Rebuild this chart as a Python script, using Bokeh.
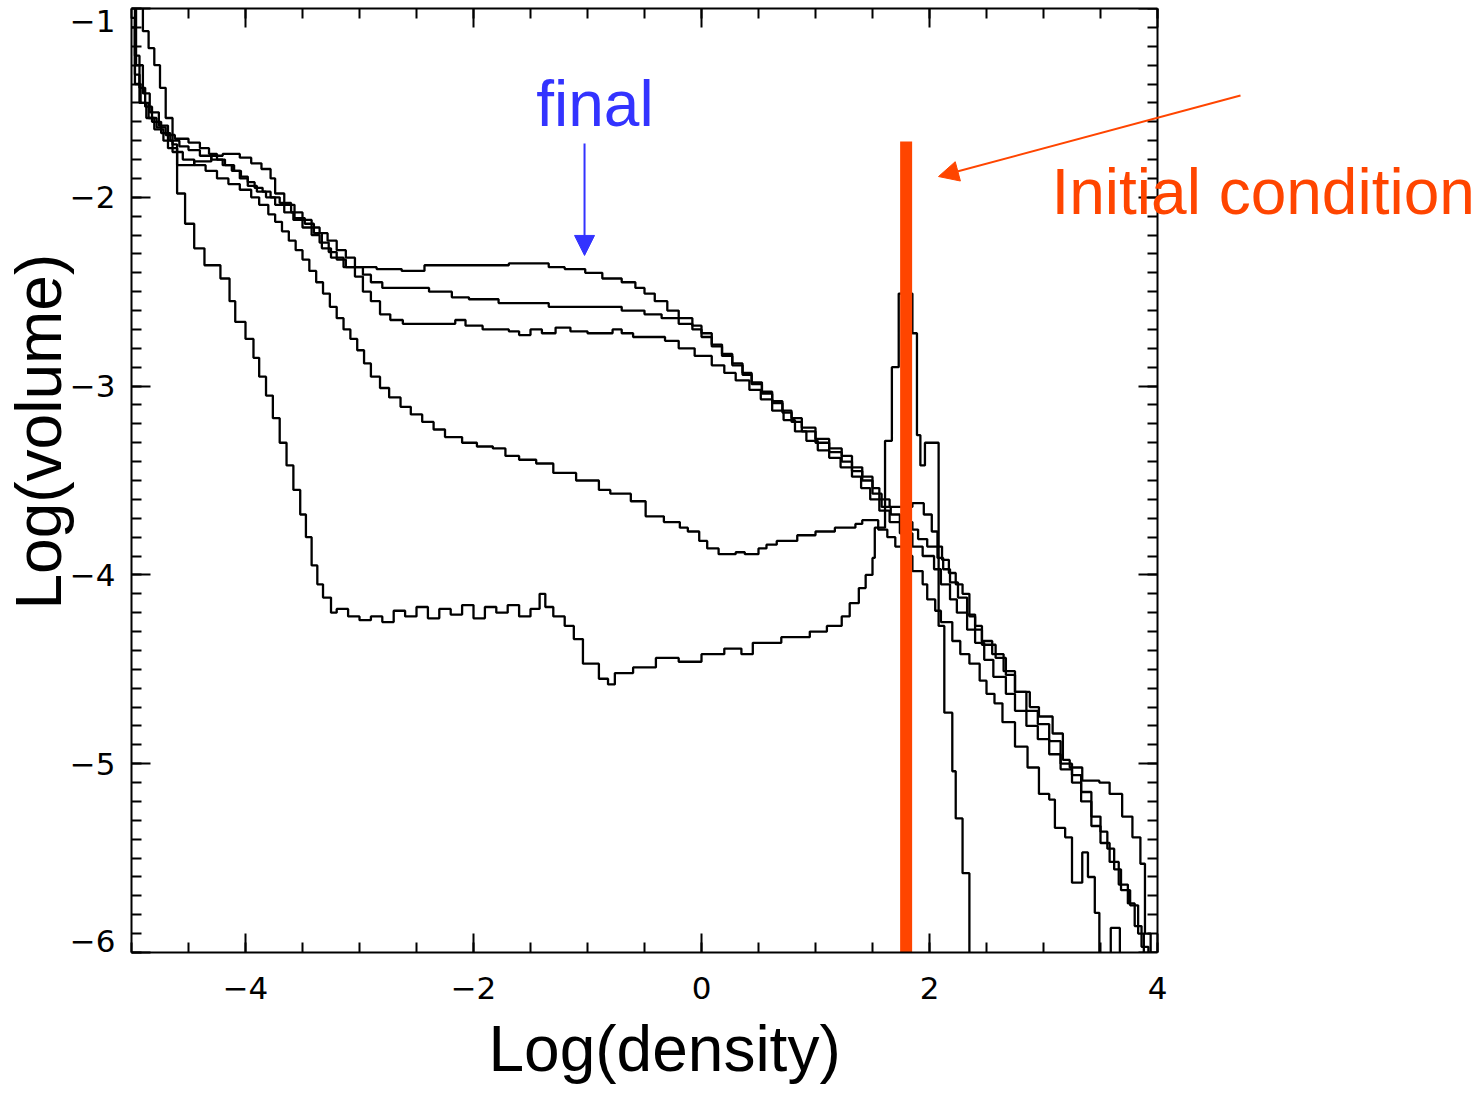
import numpy as np
from bokeh.plotting import figure
from bokeh.models import (FixedTicker, LinearAxis, Label, Arrow, NormalHead, Title,
                          Range1d, CustomJSTickFormatter)
from bokeh.embed import file_html
from bokeh.resources import INLINE

# ---------------- data ----------------
# Each histogram: left bin edges (Log density) and Log(volume) values.
final_x = [-5.0, -4.96, -4.9, -4.84, -4.76, -4.68, -4.6, -4.45, -4.3, -4.2, -4.05, -3.95, -3.86, -3.78, -3.74,
           -3.66, -3.57, -3.48, -3.4, -3.33, -3.25, -3.14, -2.85, -2.63, -2.43, -1.69, -1.34, -1.2, -1.02, -0.87,
           -0.7, -0.58, -0.5, -0.41, -0.3, -0.2, -0.08, 0.0, 0.09, 0.18, 0.27, 0.36, 0.44, 0.53, 0.62, 0.71, 0.79,
           0.88, 1.0, 1.12, 1.23, 1.32, 1.41, 1.5, 1.56, 1.65, 1.85, 1.95, 2.02, 2.07, 2.11, 2.17, 2.23, 2.29, 2.35,
           2.4, 2.46, 2.58, 2.67, 2.75, 2.88, 2.96, 3.08, 3.17, 3.23, 3.34, 3.49, 3.58, 3.69, 3.78, 3.85, 3.89, 3.94]
final_y = [-0.9, -1.3, -1.45, -1.55, -1.62, -1.74, -1.83, -1.81, -1.78, -1.77, -1.79, -1.82, -1.85, -1.9, -1.98,
           -2.04, -2.11, -2.14, -2.19, -2.27, -2.32, -2.37, -2.38, -2.39, -2.36, -2.35, -2.37, -2.38, -2.40, -2.43,
           -2.45, -2.48, -2.51, -2.55, -2.60, -2.64, -2.68, -2.72, -2.78, -2.83, -2.88, -2.93, -2.98, -3.03, -3.08,
           -3.13, -3.17, -3.22, -3.28, -3.33, -3.37, -3.43, -3.48, -3.54, -3.6, -3.64, -3.62, -3.68, -3.77, -3.85,
           -3.92, -3.99, -4.05, -4.10, -4.22, -4.29, -4.37, -4.44, -4.53, -4.62, -4.70, -4.75, -4.84, -4.98, -5.02,
           -5.09, -5.1, -5.16, -5.28, -5.39, -5.53, -5.9, -7.0]

t2_x = [-5.0, -4.97, -4.92, -4.85, -4.78, -4.7, -4.62, -4.5, -4.4, -4.32, -4.25, -4.18, -4.1, -4.04, -3.98, -3.92,
        -3.85, -3.78, -3.7, -3.6, -3.5, -3.42, -3.35, -3.28, -3.2, -3.12, -3.04, -2.97, -2.9, -2.8, -2.39, -2.19,
        -2.04, -1.78, -1.34, -0.7, -0.5, -0.35, -0.2, -0.08, 0.0, 0.09, 0.18, 0.27, 0.36, 0.44, 0.53, 0.62, 0.71,
        0.79, 0.88, 1.0, 1.12, 1.23, 1.32, 1.41, 1.5, 1.58, 1.66, 1.74, 1.85, 1.9, 1.98, 2.07, 2.12, 2.18, 2.25,
        2.33, 2.4, 2.46, 2.55, 2.65, 2.75, 2.85, 2.95, 3.05, 3.15, 3.25, 3.33, 3.42, 3.5, 3.56, 3.62, 3.68, 3.76,
        3.83, 3.88]
t2_y = [-0.95, -1.4, -1.5, -1.58, -1.63, -1.67, -1.69, -1.71, -1.74, -1.77, -1.8, -1.83, -1.86, -1.89, -1.92,
        -1.95, -1.97, -2.0, -2.03, -2.08, -2.12, -2.16, -2.19, -2.23, -2.28, -2.32, -2.37, -2.41, -2.45, -2.48,
        -2.50, -2.53, -2.54, -2.56, -2.58, -2.60, -2.62, -2.64, -2.67, -2.70, -2.74, -2.79, -2.84, -2.89, -2.94,
        -2.99, -3.04, -3.09, -3.14, -3.19, -3.24, -3.3, -3.35, -3.40, -3.45, -3.5, -3.57, -3.64, -3.68, -3.72,
        -3.76, -3.81, -3.85, -3.91, -3.97, -4.04, -4.12, -4.21, -4.27, -4.35, -4.42, -4.51, -4.62, -4.72, -4.79,
        -4.88, -5.0, -5.06, -5.15, -5.28, -5.36, -5.45, -5.56, -5.67, -5.75, -5.9, -7.0]

t3_x = [-5.0, -4.97, -4.93, -4.88, -4.82, -4.74, -4.66, -4.58, -4.5, -4.4, -4.3, -4.2, -4.12, -4.05, -3.98, -3.9,
        -3.82, -3.74, -3.66, -3.58, -3.5, -3.42, -3.35, -3.27, -3.2, -3.12, -3.04, -2.97, -2.9, -2.82, -2.73,
        -2.62, -2.16, -2.07, -1.92, -1.69, -1.6, -1.5, -1.4, -1.28, -1.15, -1.0, -0.78, -0.7, -0.6, -0.32, -0.2,
        -0.06, 0.09, 0.2, 0.3, 0.42, 0.52, 0.62, 0.72, 0.82, 0.92, 1.02, 1.12, 1.22, 1.32, 1.4, 1.48, 1.56, 1.65,
        1.74, 1.85, 1.94, 2.04, 2.1, 2.18, 2.24, 2.33, 2.4, 2.48, 2.56, 2.67, 2.75, 2.85, 2.95, 3.05, 3.15, 3.25,
        3.33, 3.42, 3.5, 3.58, 3.66, 3.74, 3.8, 3.86, 3.92]
t3_y = [-1.05, -1.25, -1.42, -1.52, -1.6, -1.66, -1.7, -1.73, -1.75, -1.78, -1.8, -1.83, -1.86, -1.9, -1.94, -1.97,
        -2.0, -2.04, -2.08, -2.12, -2.16, -2.2, -2.24, -2.29, -2.33, -2.37, -2.42, -2.5, -2.55, -2.62, -2.65,
        -2.67, -2.65, -2.68, -2.70, -2.71, -2.73, -2.70, -2.72, -2.69, -2.71, -2.72, -2.70, -2.72, -2.74, -2.76,
        -2.80, -2.84, -2.89, -2.93, -2.97, -3.02, -3.07, -3.13, -3.18, -3.24, -3.29, -3.34, -3.38, -3.43, -3.48,
        -3.54, -3.6, -3.66, -3.72, -3.78, -3.85, -3.9, -3.97, -4.05, -4.13, -4.2, -4.29, -4.36, -4.45, -4.54,
        -4.63, -4.72, -4.8, -4.87, -4.95, -5.03, -5.1, -5.2, -5.33, -5.42, -5.52, -5.64, -5.74, -5.86, -5.97, -7.0]

t4_x = [-5.0, -4.97, -4.93, -4.87, -4.8, -4.72, -4.64, -4.55, -4.45, -4.35, -4.25, -4.15, -4.05, -3.95, -3.88,
        -3.8, -3.74, -3.68, -3.62, -3.56, -3.5, -3.44, -3.38, -3.32, -3.26, -3.2, -3.14, -3.08, -3.02, -2.96, -2.9,
        -2.82, -2.74, -2.64, -2.55, -2.45, -2.35, -2.25, -2.1, -1.97, -1.83, -1.72, -1.6, -1.45, -1.3, -1.1, -0.9,
        -0.8, -0.62, -0.49, -0.33, -0.19, -0.12, -0.02, 0.05, 0.15, 0.3, 0.38, 0.5, 0.57, 0.66, 0.84, 1.0, 1.17,
        1.35, 1.41, 1.55, 1.63, 1.7, 1.78, 1.85, 1.94, 1.98, 2.05, 2.1, 2.2, 2.27, 2.35, 2.44, 2.5, 2.57, 2.64,
        2.75, 2.86, 2.96, 3.05, 3.1, 3.19, 3.25, 3.34, 3.39, 3.45, 3.49, 3.59, 3.67]
t4_y = [-1.1, -1.35, -1.5, -1.58, -1.64, -1.7, -1.76, -1.8, -1.83, -1.86, -1.9, -1.93, -1.96, -2.0, -2.04, -2.09,
        -2.13, -2.18, -2.23, -2.28, -2.33, -2.39, -2.45, -2.51, -2.58, -2.64, -2.7, -2.75, -2.81, -2.88, -2.95,
        -3.01, -3.06, -3.11, -3.15, -3.19, -3.23, -3.27, -3.30, -3.32, -3.33, -3.37, -3.39, -3.41, -3.46, -3.50,
        -3.55, -3.57, -3.61, -3.69, -3.72, -3.75, -3.77, -3.82, -3.86, -3.89, -3.88, -3.89, -3.86, -3.84, -3.82,
        -3.79, -3.77, -3.75, -3.73, -3.71, -3.76, -3.8, -3.85, -3.9, -3.98, -4.05, -4.13, -4.19, -4.25, -4.35,
        -4.42, -4.47, -4.56, -4.63, -4.68, -4.78, -4.91, -5.02, -5.16, -5.19, -5.34, -5.39, -5.63, -5.47, -5.6,
        -5.79, -7.0, -5.87, -7.0]

t5_x = [-5.0, -4.9, -4.85, -4.8, -4.75, -4.7, -4.64, -4.6, -4.53, -4.45, -4.36, -4.22, -4.14, -4.09, -4.0, -3.93,
        -3.88, -3.82, -3.76, -3.7, -3.64, -3.58, -3.52, -3.47, -3.42, -3.37, -3.32, -3.25, -3.2, -3.1, -3.0, -2.9,
        -2.8, -2.7, -2.6, -2.5, -2.4, -2.3, -2.2, -2.1, -2.0, -1.9, -1.8, -1.7, -1.6, -1.5, -1.42, -1.37, -1.3,
        -1.2, -1.12, -1.04, -0.9, -0.82, -0.76, -0.6, -0.4, -0.2, 0.0, 0.2, 0.35, 0.45, 0.7, 0.95, 1.1, 1.23, 1.3,
        1.38, 1.44, 1.5, 1.52, 1.61, 1.67, 1.73, 1.85, 1.89, 1.92, 1.96, 2.08, 2.13, 2.2, 2.23, 2.29, 2.35]
t5_y = [-0.95, -1.12, -1.21, -1.3, -1.42, -1.58, -1.72, -1.98, -2.14, -2.27, -2.36, -2.43, -2.55, -2.66, -2.75,
        -2.85, -2.95, -3.05, -3.17, -3.3, -3.42, -3.55, -3.68, -3.8, -3.95, -4.05, -4.12, -4.2, -4.18, -4.22, -4.24,
        -4.22, -4.25, -4.19, -4.22, -4.17, -4.23, -4.18, -4.21, -4.16, -4.23, -4.17, -4.2, -4.16, -4.22, -4.18,
        -4.1, -4.17, -4.22, -4.27, -4.34, -4.47, -4.55, -4.58, -4.52, -4.49, -4.44, -4.46, -4.42, -4.39, -4.42,
        -4.36, -4.33, -4.3, -4.27, -4.22, -4.15, -4.07, -4.0, -3.91, -3.75, -3.29, -2.9, -2.51, -2.72, -3.26,
        -3.42, -3.3, -4.27, -4.73, -5.04, -5.29, -5.58, -7.0]

histograms = [(final_x, final_y), (t2_x, t2_y), (t3_x, t3_y), (t4_x, t4_y), (t5_x, t5_y)]

# Initial condition: a delta at one density
init_density = 1.795
init_top = -1.705
init_bottom = -6.0

x_major = [-4, -2, 0, 2, 4]
x_minor = [-5.0 + 0.5 * i for i in range(19)]
y_major = [-6, -5, -4, -3, -2, -1]
y_minor = [round(-6.0 + 0.1 * i, 1) for i in range(51)]
# where the old plotting package put the y tick labels (end labels nudged inside)
y_label_pos = [-1.064, -2.0, -3.0, -4.0, -5.0, -5.94]

BLUE = "#3333ff"
ORANGE = "#ff4500"

# ---------------- figure ----------------
# The frame runs past x = 4 so that the annotations on the right are not clipped;
# the right-hand axis is pinned at x = 4 and the horizontal axes are bounded to [-5, 4].
PX_PER_UNIT = 114.0
FRAME_W = 1343
p = figure(frame_width=FRAME_W, frame_height=944,
           min_border_left=131, min_border_right=2, min_border_top=8, min_border_bottom=141,
           x_range=Range1d(-5, -5 + FRAME_W / PX_PER_UNIT), y_range=Range1d(-6, -1),
           output_backend="svg", toolbar_location=None, background_fill_color="white",
           border_fill_color="white")
p.grid.visible = False
p.outline_line_color = None

minus_fmt = "return (tick < 0 ? '\\u2212' + Math.abs(Math.round(tick)) : '' + Math.round(tick));"


def style_ticks(ax, major, minor):
    ax.ticker = FixedTicker(ticks=major, minor_ticks=minor)
    ax.axis_line_color = "black"
    ax.axis_line_width = 2
    ax.major_tick_line_color = "black"
    ax.major_tick_line_width = 2
    ax.minor_tick_line_color = "black"
    ax.minor_tick_line_width = 2
    ax.major_tick_in = 19
    ax.major_tick_out = 0
    ax.minor_tick_in = 10
    ax.minor_tick_out = 0


def style_labels(ax):
    ax.formatter = CustomJSTickFormatter(code=minus_fmt)
    ax.major_label_text_font = "DejaVu Sans"
    ax.major_label_text_font_size = "31px"
    ax.major_label_text_color = "black"


def no_labels(ax):
    ax.formatter = CustomJSTickFormatter(code="return '';")
    ax.major_label_standoff = 0
    ax.axis_label = None


# bottom axis: ticks + labels
xa = p.xaxis[0]
style_ticks(xa, x_major, x_minor)
style_labels(xa)
xa.bounds = (-5, 4)
xa.major_label_standoff = 24

# left axis: ticks only
ya = p.yaxis[0]
style_ticks(ya, y_major, y_minor)
no_labels(ya)

# left labels (placed like the reference, outside the tick axis)
ylab = LinearAxis(ticker=FixedTicker(ticks=y_label_pos, minor_ticks=[]),
                  axis_line_color=None, major_tick_line_color=None, minor_tick_line_color=None,
                  major_tick_in=0, major_tick_out=0, minor_tick_in=0, minor_tick_out=0)
style_labels(ylab)
ylab.major_label_standoff = 16
p.add_layout(ylab, "left")

top_ax = LinearAxis()
style_ticks(top_ax, x_major, x_minor)
no_labels(top_ax)
top_ax.bounds = (-5, 4)
p.add_layout(top_ax, "above")

right_ax = LinearAxis(fixed_location=4)
style_ticks(right_ax, y_major, y_minor)
no_labels(right_ax)
p.add_layout(right_ax, "right")

# axis titles
p.add_layout(Title(text="Log(density)", align="left", offset=357, standoff=18,
                   text_font="Liberation Sans", text_font_size="64px", text_font_style="normal",
                   text_color="black"), "below")
p.add_layout(Title(text="Log(volume)", align="left", offset=343, standoff=-17,
                   text_font="Liberation Sans", text_font_size="64px", text_font_style="normal",
                   text_color="black"), "left")

for hx, hy in histograms:
    p.step(hx, hy, mode="after", line_color="black", line_width=2.3)

p.segment(x0=[init_density], y0=[init_top], x1=[init_density], y1=[init_bottom],
          line_color=ORANGE, line_width=12, line_cap="butt")

# annotations
p.add_layout(Label(x=-1.45, y=-1.505, text="final", text_color=BLUE, text_font="Liberation Sans",
                   text_font_size="64px", text_baseline="alphabetic"))
p.add_layout(Arrow(x_start=-1.026, y_start=-1.715, x_end=-1.026, y_end=-2.308,
                   line_color=BLUE, line_width=2,
                   end=NormalHead(size=20, fill_color=BLUE, line_color=BLUE, line_width=1)))
p.add_layout(Label(x=3.07, y=-1.972, text="Initial condition", text_color=ORANGE,
                   text_font="Liberation Sans", text_font_size="64px", text_baseline="alphabetic"))
p.add_layout(Arrow(x_start=4.728, y_start=-1.461, x_end=2.079, y_end=-1.890,
                   line_color=ORANGE, line_width=2,
                   end=NormalHead(size=20, fill_color=ORANGE, line_color=ORANGE, line_width=1)))

open("out.html", "w").write(file_html(p, INLINE))
